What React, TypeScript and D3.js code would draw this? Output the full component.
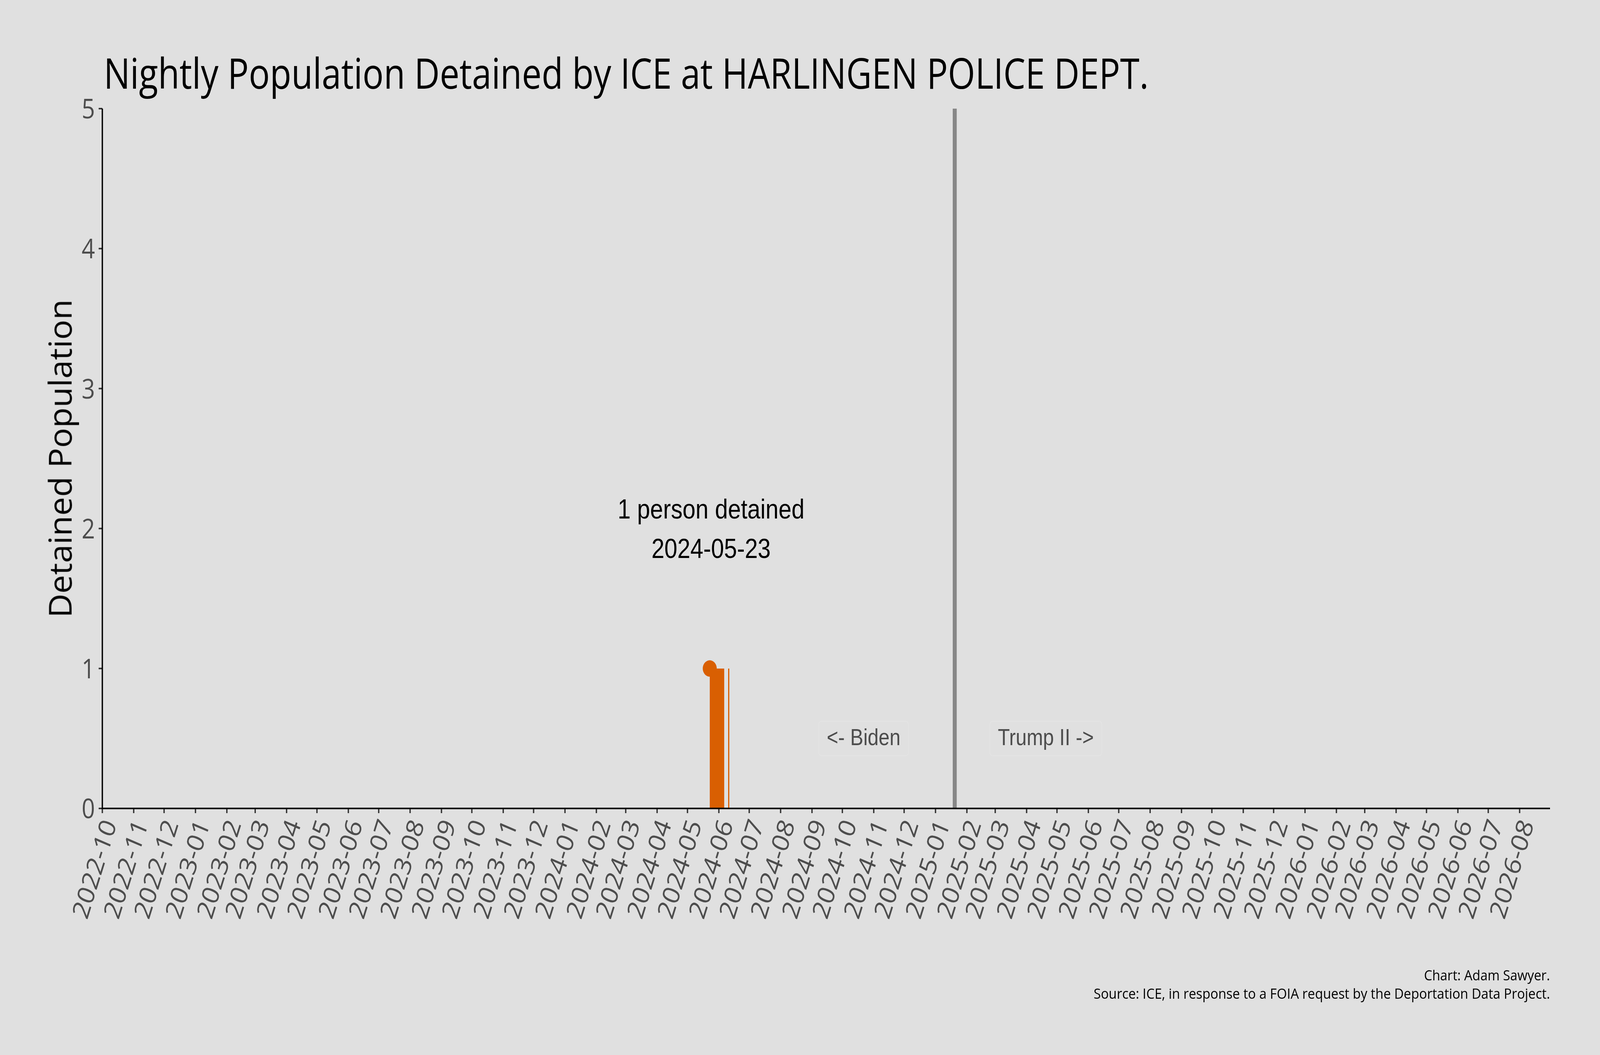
import React, { useEffect, useRef } from "react";
import * as d3 from "d3";

// nights with someone in custody (all other nights are 0)
const nightDates = [
  "2024-05-23", "2024-05-24", "2024-05-25", "2024-05-26", "2024-05-27",
  "2024-05-28", "2024-05-29", "2024-05-30", "2024-05-31", "2024-06-01",
  "2024-06-02", "2024-06-03", "2024-06-04", "2024-06-05", "2024-06-10",
];
const nightCounts = [1, 1, 1, 1, 1, 1, 1, 1, 1, 1, 1, 1, 1, 1, 1];

const peakDate = "2024-05-23";
const peakValue = 1;
const inauguration = "2025-01-20";
const eraLabels = ["<- Biden", "Trump II ->"];
const eraDates = ["2024-10-22", "2025-04-20"];
const yTicks = [0, 1, 2, 3, 4, 5];

const W = 4800;
const H = 2700;
const margin = { top: 278, right: 150, bottom: 631, left: 307 };

const App = () => {
  const ref = useRef<SVGSVGElement>(null);

  useEffect(() => {
    const svg = d3.select(ref.current);
    svg.selectAll("*").remove();

    const x = d3
      .scaleUtc()
      .domain([new Date("2022-10-01"), new Date("2026-08-31")])
      .range([margin.left, W - margin.right]);
    const y = d3
      .scaleLinear()
      .domain([0, 5])
      .range([H - margin.bottom, margin.top]);
    const y0 = y(0);

    svg.append("rect").attr("width", W).attr("height", H).attr("fill", "#e0e0e0");

    // title
    svg
      .append("text")
      .attr("x", 311)
      .attr("y", 227)
      .attr("font-family", "Open Sans")
      .attr("font-size", 108)
      .attr("fill", "#000")
      .attr("textLength", 3135)
      .attr("lengthAdjust", "spacingAndGlyphs")
      .text("Nightly Population Detained by ICE at HARLINGEN POLICE DEPT.");

    // era divider
    svg
      .append("line")
      .attr("x1", x(new Date(inauguration)))
      .attr("x2", x(new Date(inauguration)))
      .attr("y1", margin.top)
      .attr("y2", y0)
      .attr("stroke", "#878787")
      .attr("stroke-width", 12);

    // nightly bars
    svg
      .append("g")
      .selectAll("rect")
      .data(nightDates.map((d, i) => ({ date: new Date(d), count: nightCounts[i] })))
      .join("rect")
      .attr("x", (d) => x(d.date))
      .attr("width", (d) => x(d3.utcDay.offset(d.date, 1)) - x(d.date) + 0.4)
      .attr("y", (d) => y(d.count))
      .attr("height", (d) => y0 - y(d.count))
      .attr("fill", "#d95f02")
      .attr("shape-rendering", "crispEdges");

    svg
      .append("circle")
      .attr("cx", x(new Date(peakDate)))
      .attr("cy", y(peakValue))
      .attr("r", 21)
      .attr("fill", "#d95f02");

    // annotation
    const note = svg
      .append("text")
      .attr("font-family", "Liberation Sans, Arial")
      .attr("font-size", 70)
      .attr("fill", "#000")
      .attr("text-anchor", "middle");
    note
      .append("tspan")
      .attr("x", x(new Date(peakDate)) + 4)
      .attr("y", y(2) - 26)
      .text(`${peakValue} person detained`);
    note
      .append("tspan")
      .attr("x", x(new Date(peakDate)) + 4)
      .attr("y", y(2) + 75)
      .text(peakDate);

    // era labels
    eraLabels.forEach((label, i) => {
      const cx = x(new Date(eraDates[i]));
      const cy = y(0.5);
      const g = svg.append("g");
      const box = g.append("rect");
      const t = g
        .append("text")
        .attr("x", cx)
        .attr("y", cy + 17)
        .attr("text-anchor", "middle")
        .attr("font-family", "Liberation Sans, Arial")
        .attr("font-size", 59)
        .attr("fill", "#4d4d4d")
        .text(label);
      const len = (t.node() as SVGTextElement).getComputedTextLength();
      box
        .attr("x", cx - len / 2 - 24)
        .attr("y", cy - 44)
        .attr("width", len + 48)
        .attr("height", 88)
        .attr("rx", 8)
        .attr("fill", "#e0e0e0")
        .attr("stroke", "#e4e4e4")
        .attr("stroke-width", 2);
    });

    // x axis
    const months = x.ticks(d3.utcMonth.every(1) as any);
    const fmt = d3.utcFormat("%Y-%m");
    svg
      .append("g")
      .selectAll("line")
      .data(months)
      .join("line")
      .attr("x1", (d) => x(d))
      .attr("x2", (d) => x(d))
      .attr("y1", y0)
      .attr("y2", y0 + 12)
      .attr("stroke", "#333")
      .attr("stroke-width", 4);
    svg
      .append("g")
      .selectAll("text")
      .data(months)
      .join("text")
      .attr("transform", (d) => `translate(${x(d) + 44},${y0 + 40}) rotate(-70)`)
      .attr("text-anchor", "end")
      .attr("font-family", "Open Sans")
      .attr("font-size", 70)
      .attr("fill", "#4d4d4d")
      .text((d) => fmt(d));

    // y axis
    svg
      .append("g")
      .selectAll("line")
      .data(yTicks)
      .join("line")
      .attr("x1", margin.left - 11)
      .attr("x2", margin.left)
      .attr("y1", (d) => y(d))
      .attr("y2", (d) => y(d))
      .attr("stroke", "#333")
      .attr("stroke-width", 4);
    svg
      .append("g")
      .selectAll("text")
      .data(yTicks)
      .join("text")
      .attr("x", margin.left - 22)
      .attr("y", (d) => y(d))
      .attr("dy", "0.36em")
      .attr("text-anchor", "end")
      .attr("font-family", "Open Sans")
      .attr("font-size", 70)
      .attr("fill", "#4d4d4d")
      .text((d) => d);

    svg
      .append("line")
      .attr("x1", margin.left)
      .attr("x2", W - margin.right)
      .attr("y1", y0)
      .attr("y2", y0)
      .attr("stroke", "#000")
      .attr("stroke-width", 4);
    svg
      .append("line")
      .attr("x1", margin.left)
      .attr("x2", margin.left)
      .attr("y1", margin.top)
      .attr("y2", y0 + 2)
      .attr("stroke", "#000")
      .attr("stroke-width", 4);

    svg
      .append("text")
      .attr("transform", `translate(215,${(margin.top + y0) / 2}) rotate(-90)`)
      .attr("text-anchor", "middle")
      .attr("font-family", "Open Sans")
      .attr("font-size", 94)
      .attr("fill", "#000")
      .attr("textLength", 815)
      .attr("lengthAdjust", "spacingAndGlyphs")
      .text("Detained Population");

    // caption
    const capLines = [
      { text: "Chart: Adam Sawyer.", y: 2509, len: 378 },
      { text: "Source: ICE, in response to a FOIA request by the Deportation Data Project.", y: 2556, len: 1369 },
    ];
    svg
      .append("g")
      .selectAll("text")
      .data(capLines)
      .join("text")
      .attr("x", 4650)
      .attr("y", (d) => d.y)
      .attr("text-anchor", "end")
      .attr("font-family", "Open Sans")
      .attr("font-size", 37)
      .attr("fill", "#000")
      .attr("textLength", (d) => d.len)
      .attr("lengthAdjust", "spacingAndGlyphs")
      .text((d) => d.text);
  }, []);

  // the window may be narrower than 4800, so the drawing is fitted to it
  return (
    <svg
      ref={ref}
      viewBox={`0 0 ${W} ${H}`}
      preserveAspectRatio="none"
      style={{ position: "fixed", left: 0, top: 0, width: "100vw", height: "100vh", display: "block" }}
    />
  );
};

export default App;
